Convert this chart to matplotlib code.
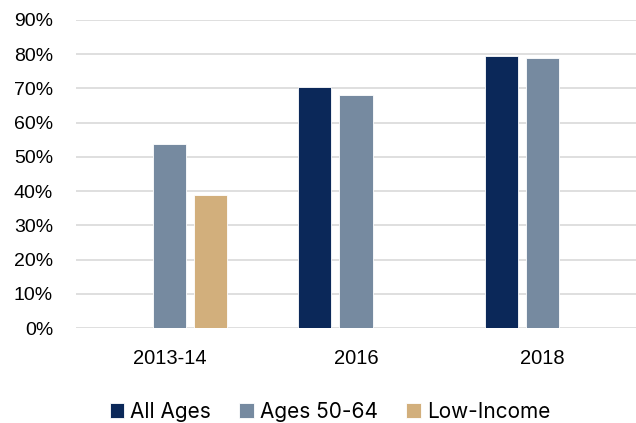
import matplotlib
matplotlib.use("Agg")
import matplotlib.pyplot as plt
import numpy as np
from matplotlib.ticker import PercentFormatter

categories = ["2013-14", "2016", "2018"]
series_names = ["All Ages", "Ages 50-64", "Low-Income"]
all_ages = [np.nan, 0.703, 0.796]
ages_50_64 = [0.538, 0.680, 0.789]
low_income = [0.389, np.nan, np.nan]
colors = ["#0B2859", "#768AA0", "#D2AF7C"]
yticks = [0, 0.1, 0.2, 0.3, 0.4, 0.5, 0.6, 0.7, 0.8, 0.9]

fig = plt.figure(figsize=(6.36, 4.23), dpi=100)
ax = fig.add_axes([76/636, (423-328)/423, 1 - 76/636, (328-20)/423])

x = np.arange(len(categories))
bw = 0.177
offs = 0.22
for i, (vals, name) in enumerate(zip([all_ages, ages_50_64, low_income], series_names)):
    ax.bar(x + (i - 1) * offs, vals, width=bw, color=colors[i], label=name,
           edgecolor="white", linewidth=0.6, zorder=3)

ax.set_xlim(-0.5, 2.5)
ax.set_ylim(0, 0.9)
ax.set_yticks(yticks)
ax.yaxis.set_major_formatter(PercentFormatter(1.0, decimals=0))
ax.set_xticks(x)
ax.set_xticklabels(categories)
ax.grid(axis="y", color="#D9D9D9", linewidth=1.2, zorder=0)
for s in ax.spines.values():
    s.set_visible(False)
ax.tick_params(axis="both", length=0, labelsize=14, colors="#000000")
ax.tick_params(axis="y", pad=16.5)
ax.tick_params(axis="x", pad=15)
for lab in ax.get_xticklabels() + ax.get_yticklabels():
    lab.set_fontfamily("Liberation Sans")
for lab in ax.get_xticklabels():
    lab.set_fontsize(14.5)

leg = fig.legend(loc="center", bbox_to_anchor=(0.519, 0.027), ncol=3, frameon=False,
                 handlelength=0.7, handleheight=0.7, handletextpad=0.3,
                 columnspacing=1.35, prop={"family": "Inter", "size": 15})
fig.savefig("out.png", dpi=100)
